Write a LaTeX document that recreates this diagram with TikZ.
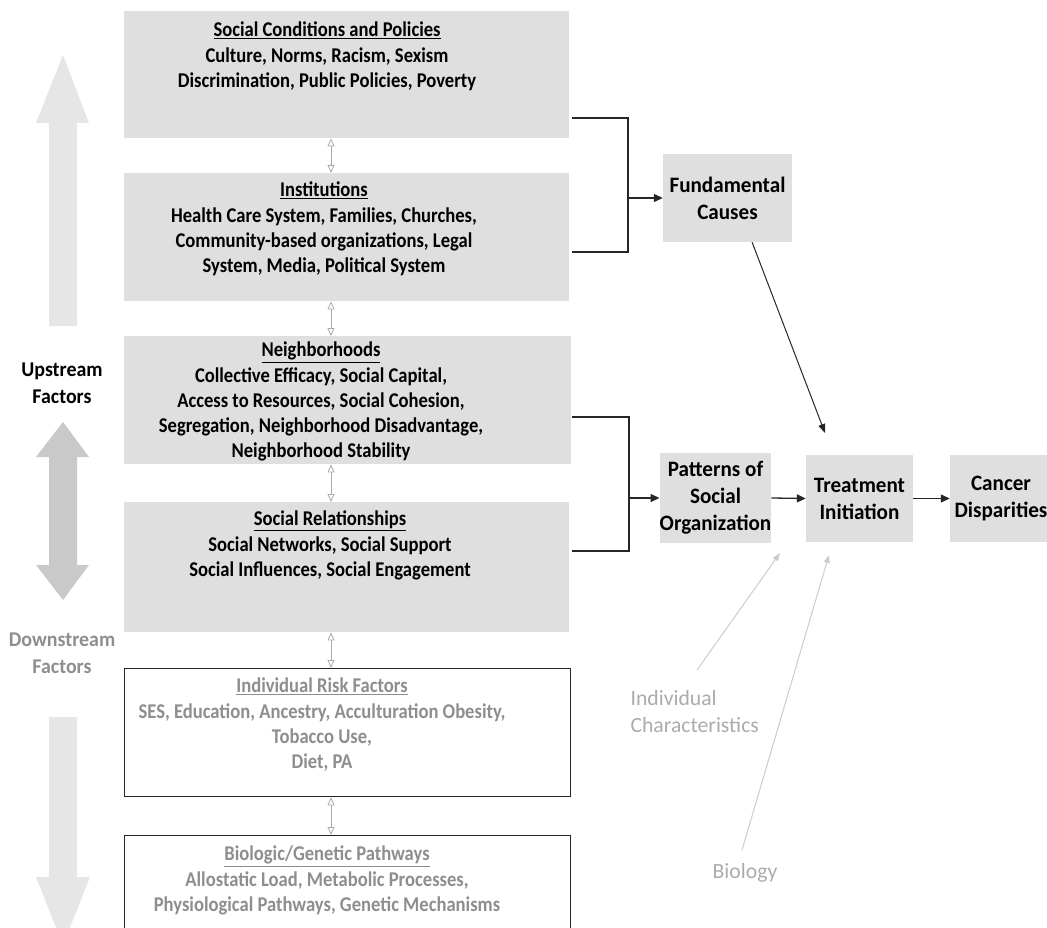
\documentclass[tikz,border=0pt]{standalone}
\usepackage{fontspec}
\setmainfont{Carlito}
\newfontfamily\levelfont{Carlito}[FakeStretch=0.885]
\newfontfamily\chainfont{Carlito}[FakeStretch=0.96]
\newfontfamily\sidefont{Carlito}[FakeStretch=0.95]
\usetikzlibrary{arrows.meta,calc}

\definecolor{boxgray}{HTML}{DFDFDF}
\definecolor{pale}{HTML}{E6E6E6}
\definecolor{midgray}{HTML}{C9C9C9}
\definecolor{downtext}{HTML}{8E8E8E}
\definecolor{softtext}{HTML}{ABABAB}
\definecolor{softline}{HTML}{CCCCCC}
\definecolor{linkgray}{HTML}{ABABAB}

\tikzset{
  levelbox/.style={rectangle, fill=boxgray, draw=none, anchor=north west, inner sep=0pt},
  outlinebox/.style={rectangle, fill=white, draw=black!85, line width=1.3pt, anchor=north west, inner sep=0pt},
  boxtext/.style={font=\levelfont\bfseries\fontsize{21}{25.2}\selectfont, align=center, anchor=north, inner sep=0pt},
  sidebox/.style={rectangle, fill=boxgray, draw=none, inner sep=0pt, align=center,
    font=\chainfont\bfseries\fontsize{22}{27}\selectfont},
  sidelabel/.style={font=\sidefont\bfseries\fontsize{21}{27}\selectfont, align=center},
  softlabel/.style={font=\fontsize{21.7}{27}\selectfont, text=softtext},
  link/.style={draw=black!85, line width=1.3pt},
  linkarrow/.style={link, -{Triangle[length=9pt,width=8pt]}},
  softarrow/.style={draw=softline, line width=1pt, -{Triangle[length=8pt,width=6pt]}},
  between/.style={draw=linkgray, line width=0.8pt,
    {Triangle[open,length=8pt,width=7pt]}-{Triangle[open,length=8pt,width=7pt]}},
}

\begin{document}
\begin{tikzpicture}[x=1pt,y=-1pt]
\path[use as bounding box] (0,0) rectangle (1047,928);
\clip (0,0) rectangle (1047,928);

% large direction arrows on the left
\fill[pale] (49,326) -- (49,123) -- (36,123) -- (63,55) -- (89,123) -- (77,123) -- (77,326) -- cycle;
\fill[midgray] (63,422) -- (89,457) -- (77,457) -- (77,565) -- (89,565) -- (63,600)
  -- (36,565) -- (49,565) -- (49,457) -- (36,457) -- cycle;
\fill[pale] (49,717) -- (77,717) -- (77,877) -- (90,877) -- (63,945) -- (36,877) -- (49,877) -- cycle;

\node[sidelabel] (up) at (62,383.5) {Upstream\\Factors};
\node[sidelabel, text=downtext] (down) at (62,653) {Downstream\\Factors};

% levels
\node[levelbox, minimum width=445pt, minimum height=127pt] (b1) at (124,11) {};
\node[levelbox, minimum width=445pt, minimum height=128pt] (b2) at (124,173) {};
\node[levelbox, minimum width=447pt, minimum height=128pt] (b3) at (124,336) {};
\node[levelbox, minimum width=445pt, minimum height=130pt] (b4) at (124,502) {};
\node[outlinebox, minimum width=446pt, minimum height=128pt] (b5) at (124,668) {};
\node[outlinebox, minimum width=446pt, minimum height=130pt] (b6) at (124,835) {};

\node[boxtext] (t1) at (327,22) {\underline{Social Conditions and Policies}\\
  Culture, Norms, Racism, Sexism\\ Discrimination, Public Policies, Poverty};
\node[boxtext] (t2) at (324,182) {\underline{Institutions}\\
  Health Care System, Families, Churches,\\ Community-based organizations, Legal\\
  System, Media, Political System};
\node[boxtext] (t3) at (321,342) {\underline{Neighborhoods}\\
  Collective Efficacy, Social Capital,\\ Access to Resources, Social Cohesion,\\
  Segregation, Neighborhood Disadvantage,\\ Neighborhood Stability};
\node[boxtext] (t4) at (330,511) {\underline{Social Relationships}\\
  Social Networks, Social Support\\ Social Influences, Social Engagement};
\node[boxtext, text=downtext] (t5) at (322,678) {\underline{Individual Risk Factors}\\
  SES, Education, Ancestry, Acculturation Obesity,\\ Tobacco Use,\\ Diet, PA};
\node[boxtext, text=downtext] (t6) at (327,846) {\underline{Biologic/Genetic Pathways}\\
  Allostatic Load, Metabolic Processes,\\ Physiological Pathways, Genetic Mechanisms};

% two-way links between levels
\coordinate (mx) at (331,0);
\draw[between] (b1.south -| mx) -- (b2.north -| mx);
\draw[between] (b2.south -| mx) -- (b3.north -| mx);
\draw[between] (b3.south -| mx) -- (b4.north -| mx);
\draw[between] (b4.south -| mx) -- (b5.north -| mx);
\draw[between] (b5.south -| mx) -- (b6.north -| mx);

% right-hand chain
\node[sidebox, minimum width=129pt, minimum height=88pt] (fc) at (727.5,198) {Fundamental\\Causes};
\node[sidebox, minimum width=109pt, minimum height=90pt] (pso) at (715.5,498) {Patterns of\\Social\\Organization};
\node[sidebox, minimum width=107pt, minimum height=87pt] (ti) at (859.5,498.5) {Treatment\\Initiation};
\node[sidebox, minimum width=102pt, minimum height=87pt] (cd) at (1001,498.5) {Cancer\\Disparities};

% brackets joining the levels
\coordinate (j1a) at (628,118);
\coordinate (j1b) at (628,252);
\draw[link] ($(b1.east |- j1a)+(3,0)$) -- (j1a) -- (j1b) -- ($(b2.east |- j1b)+(3,0)$);
\draw[linkarrow] (j1a |- fc.west) -- (fc.west);

\coordinate (j2a) at (629,417);
\coordinate (j2b) at (629,551);
\draw[link] ($(b3.east |- j2a)+(1,0)$) -- (j2a) -- (j2b) -- ($(b4.east |- j2b)+(3,0)$);
\draw[linkarrow] (j2a |- pso.west) -- (pso.west);

\draw[linkarrow] (pso.east) -- (ti.west);
\draw[linkarrow] (ti.east) -- (cd.west);

\coordinate (tiin) at (825,433);
\draw[link, line width=1pt, -{Triangle[length=9pt,width=7pt]}] ($(fc.south west)!0.69!(fc.south east)$) -- (tiin);

% individual-level influences
\node[softlabel, align=left, anchor=west] (ic) at (627,711.5) {Individual\\Characteristics};
\node[softlabel] (bio) at (745,873) {Biology};
\coordinate (ictail) at (697,670);
\coordinate (ichead) at (780,553);
\draw[softarrow] (ictail) -- (ichead);
\coordinate (biotail) at (742,850);
\coordinate (biohead) at (829,555);
\draw[softarrow] (biotail) -- (biohead);
\end{tikzpicture}
\end{document}
